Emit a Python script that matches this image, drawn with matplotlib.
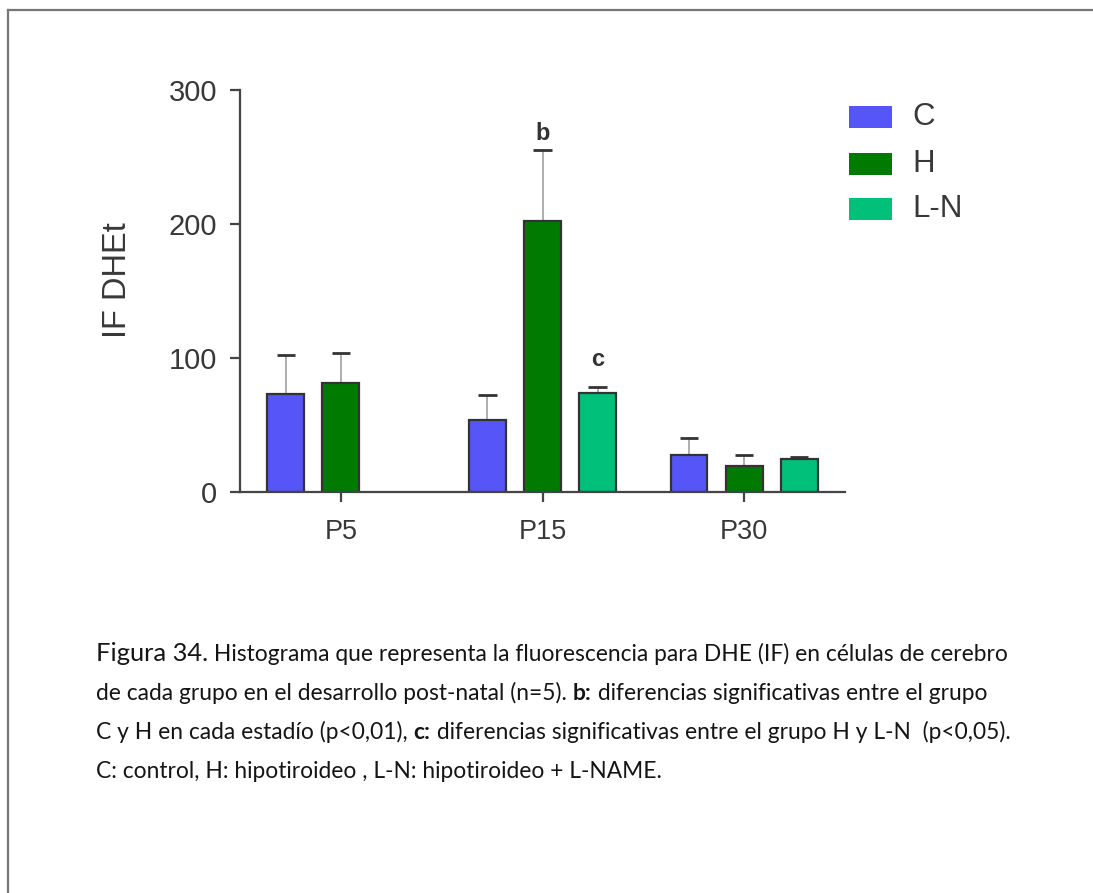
import numpy as np
import matplotlib
matplotlib.use("Agg")
import matplotlib.pyplot as plt
from matplotlib.patches import Rectangle
from matplotlib.lines import Line2D

# ---- data -------------------------------------------------------------
stages = ["P5", "P15", "P30"]
groups = ["C", "H", "L-N"]
mean_C = [73.0, 53.7, 27.6]
sem_C = [29.0, 18.7, 12.4]
mean_H = [81.0, 202.0, 19.6]
sem_H = [22.5, 53.0, 8.0]
mean_LN = [np.nan, 73.6, 24.6]   # no L-N group at P5
sem_LN = [np.nan, 5.0, 1.7]
yticks = [0, 100, 200, 300]
sig_letters = ["b", "c"]
sig_stage = [1, 1]
sig_group = [1, 2]

colors = ["#5656f8", "#007a00", "#00c07a"]
means = [mean_C, mean_H, mean_LN]
sems = [sem_C, sem_H, sem_LN]
letter_offsets = [4, 11]  # points above the error cap

W, H = 1093, 893
fig = plt.figure(figsize=(W / 100, H / 100), dpi=100)
fig.patch.set_facecolor("white")

def fx(px):
    return px / W

def fy(py):
    return 1 - py / H

chart_font = "Liberation Sans"
txt_col = "#383838"

ax = fig.add_axes([fx(240), fy(492), fx(845) - fx(240), fy(90) - fy(492)])
ax.set_xlim(-0.5, 2.5)
ax.set_ylim(0, 300)

x = np.arange(len(stages))
slot = 0.273
width = 0.182
for gi, (m, s, c) in enumerate(zip(means, sems, colors)):
    xs = x + (gi - 1) * slot
    m = np.asarray(m)
    s = np.asarray(s)
    ok = ~np.isnan(m)
    ax.bar(xs[ok], m[ok], width=width, color=c, edgecolor="#333333",
           linewidth=1.6, zorder=2)
    top = m[ok] + s[ok]
    ax.vlines(xs[ok], m[ok], top, color="#a8a8a8", linewidth=1.3, zorder=1)
    ax.hlines(top, xs[ok] - 0.045, xs[ok] + 0.045, color="#333333",
              linewidth=2.0, zorder=3)

for letter, si, gi, off in zip(sig_letters, sig_stage, sig_group, letter_offsets):
    xs = x[si] + (gi - 1) * slot
    top = means[gi][si] + sems[gi][si]
    ax.annotate(letter, (xs, top), xytext=(0, off), textcoords="offset points",
                ha="center", va="bottom", fontsize=17, fontweight="bold",
                family=chart_font, color="#333333")

for sp in ["top", "right"]:
    ax.spines[sp].set_visible(False)
for sp in ["left", "bottom"]:
    ax.spines[sp].set_color("#444444")
    ax.spines[sp].set_linewidth(1.6)

ax.set_yticks(yticks)
ax.set_yticklabels([str(v) for v in yticks], family=chart_font,
                   fontsize=21, color=txt_col)
ax.set_xticks(x)
ax.set_xticklabels(stages, family=chart_font, fontsize=19.5, color=txt_col)
ax.tick_params(axis="both", length=7.2, width=1.6, color="#444444")
ax.tick_params(axis="y", pad=9)
ax.tick_params(axis="x", pad=12)
ax.set_ylabel("IF DHEt", family=chart_font, fontsize=23.5, color=txt_col)
ax.yaxis.set_label_coords(-0.177, 0.527)

# ---- legend ---------------------------------------------------------------
leg_rows = [117, 164, 209]
for lbl, c, yc in zip(groups, colors, leg_rows):
    fig.patches.append(Rectangle((fx(849), fy(yc + 11)), fx(43), fy(0) - fy(22),
                                 transform=fig.transFigure, facecolor=c,
                                 edgecolor="none"))
    fig.text(fx(912), fy(yc), lbl, family=chart_font, fontsize=22.5,
             color=txt_col, ha="left", va="center")

# ---- frame lines ----------------------------------------------------------
fig.add_artist(Line2D([fx(8), 1], [fy(9.5), fy(9.5)], transform=fig.transFigure,
                      color="#777777", linewidth=1.6))
fig.add_artist(Line2D([fx(8), fx(8)], [fy(9.5), 0], transform=fig.transFigure,
                      color="#777777", linewidth=1.6))

# ---- caption ----------------------------------------------------------------
cap_font = ["Lato", "DejaVu Sans"]
cap_col = "#151515"
lines = [
    [("Figura 34.", "normal", 1.12),
     (" Histograma que representa la fluorescencia para DHE (IF) en células de cerebro", "normal", 1.0)],
    [("de cada grupo en el desarrollo post-natal (n=5). ", "normal", 1.0),
     ("b:", "bold", 1.0),
     (" diferencias significativas entre el grupo", "normal", 1.0)],
    [("C y H en cada estadío (p<0,01), ", "normal", 1.0),
     ("c:", "bold", 1.0),
     (" diferencias significativas entre el grupo H y L-N  (p<0,05).", "normal", 1.0)],
    [("C: control, H: hipotiroideo , L-N: hipotiroideo + L-NAME.", "normal", 1.0)],
]
baselines = [661, 700, 739, 778]
renderer = fig.canvas.get_renderer()

def draw_line(segs, x0, ybase, size):
    xp = x0
    arts = []
    for s, wgt, k in segs:
        t = fig.text(fx(xp), fy(ybase), s, family=cap_font, fontsize=size * k,
                     fontweight=wgt, color=cap_col, ha="left", va="baseline")
        bb = t.get_window_extent(renderer)
        xp += bb.width
        arts.append(t)
    return xp - x0, arts

# size the caption so the first line spans the text block width
w0, tmp = draw_line(lines[0], 96, baselines[0], 14)
for t in tmp:
    t.remove()
cap_size = 14 * 911 / w0
for segs, yb in zip(lines, baselines):
    draw_line(segs, 96, yb, cap_size)

fig.savefig("out.png", dpi=100, facecolor="white")
